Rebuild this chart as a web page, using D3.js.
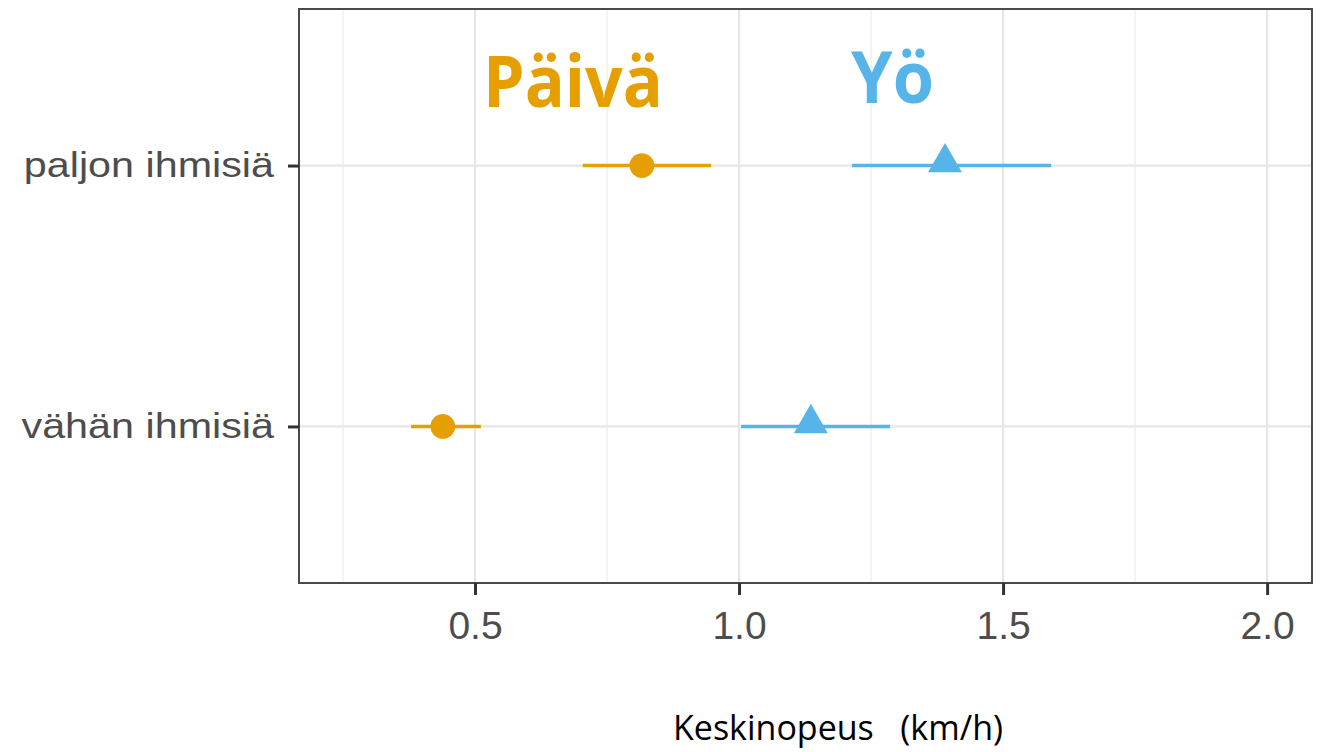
<!DOCTYPE html>
<html>
<head>
<meta charset="utf-8">
<style>
  body { margin: 0; background: #fff; }
  svg { display: block; }
</style>
</head>
<body>
<svg width="1320" height="752"></svg>
<script src="https://d3js.org/d3.v7.min.js"></script>
<script>

// data
var groups = ["vähän ihmisiä", "paljon ihmisiä"];
var seriesNames = ["Päivä", "Yö"];
var paivaMean = [0.439, 0.816];
var paivaLow  = [0.379, 0.704];
var paivaHigh = [0.511, 0.947];
var yoMean = [1.136, 1.390];
var yoLow  = [1.004, 1.214];
var yoHigh = [1.286, 1.591];
var xTicks = [0.5, 1.0, 1.5, 2.0];
var xMinor = [0.25, 0.75, 1.25, 1.75];
var xTitle = "Keskinopeus\u00a0\u00a0\u00a0(km/h)";

var svg = d3.select("svg"),
    panel = {left: 299, top: 9, right: 1312, bottom: 583};

var x = d3.scaleLinear()
    .domain([0.1667, 2.085])
    .range([panel.left, panel.right]);

var y = d3.scalePoint()
    .domain(groups)
    .range([panel.bottom, panel.top])
    .padding(0.6);

var colors = {"Päivä": "#E69F00", "Yö": "#56B4E9"};

var series = [
  {name: "Päivä", mean: paivaMean, low: paivaLow, high: paivaHigh, shape: d3.symbolCircle, size: 480},
  {name: "Yö", mean: yoMean, low: yoLow, high: yoHigh, shape: d3.symbolTriangle, size: 500}
];

// grid
var grid = svg.append("g");
grid.selectAll(".minor").data(xMinor).enter().append("line")
    .attr("x1", x).attr("x2", x)
    .attr("y1", panel.top).attr("y2", panel.bottom)
    .attr("stroke", "#ececec").attr("stroke-width", 1.2);
grid.selectAll(".major").data(xTicks).enter().append("line")
    .attr("x1", x).attr("x2", x)
    .attr("y1", panel.top).attr("y2", panel.bottom)
    .attr("stroke", "#e6e6e6").attr("stroke-width", 2.2);
grid.selectAll(".hmajor").data(groups).enter().append("line")
    .attr("x1", panel.left).attr("x2", panel.right)
    .attr("y1", y).attr("y2", y)
    .attr("stroke", "#e6e6e6").attr("stroke-width", 2.2);

// error bars + points
series.forEach(function(s) {
  var g = svg.append("g");
  var rows = groups.map(function(name, i) {
    return {group: name, mean: s.mean[i], low: s.low[i], high: s.high[i]};
  });
  g.selectAll("line").data(rows).enter().append("line")
      .attr("x1", function(d) { return x(d.low); })
      .attr("x2", function(d) { return x(d.high); })
      .attr("y1", function(d) { return y(d.group); })
      .attr("y2", function(d) { return y(d.group); })
      .attr("stroke", colors[s.name])
      .attr("stroke-width", 3.5);
  g.selectAll("path").data(rows).enter().append("path")
      .attr("d", d3.symbol().type(s.shape).size(s.size))
      .attr("transform", function(d) {
        var dy = s.shape === d3.symbolTriangle ? -3 : 0;
        return "translate(" + x(d.mean) + "," + (y(d.group) + dy) + ")";
      })
      .attr("fill", colors[s.name]);
});

// panel border
svg.append("rect")
    .attr("x", panel.left).attr("y", panel.top)
    .attr("width", panel.right - panel.left)
    .attr("height", panel.bottom - panel.top)
    .attr("fill", "none")
    .attr("stroke", "#4a4a4a")
    .attr("stroke-width", 2);

// axes
var xAxis = svg.append("g")
    .attr("transform", "translate(0," + panel.bottom + ")")
    .call(d3.axisBottom(x).tickValues(xTicks).tickFormat(d3.format(".1f")).tickSizeInner(12).tickSizeOuter(0).tickPadding(16));
var yAxis = svg.append("g")
    .attr("transform", "translate(" + panel.left + ",0)")
    .call(d3.axisLeft(y).tickSizeInner(11).tickSizeOuter(0).tickPadding(14));

[xAxis, yAxis].forEach(function(a) {
  a.select(".domain").remove();
  a.selectAll(".tick line").attr("stroke", "#333").attr("stroke-width", 3);
  a.selectAll(".tick text")
      .attr("fill", "#4d4d4d")
      .style("font-family", "'Liberation Sans', Arial, sans-serif");
});
xAxis.selectAll(".tick text").style("font-size", "39px").attr("dy", "0.71em");
yAxis.selectAll(".tick text").style("font-size", "35px")
    .each(function() {
      var len = this.getComputedTextLength();
      d3.select(this).attr("textLength", len * 1.18).attr("lengthAdjust", "spacingAndGlyphs");
    });

// series labels
var labelPos = {"Päivä": [0.515, 107, 180], "Yö": [1.212, 103, 83]};
svg.selectAll(".serieslabel").data(seriesNames).enter().append("text")
    .attr("x", function(d) { return x(labelPos[d][0]); })
    .attr("y", function(d) { return labelPos[d][1]; })
    .attr("textLength", function(d) { return labelPos[d][2]; })
    .attr("lengthAdjust", "spacingAndGlyphs")
    .attr("fill", function(d) { return colors[d]; })
    .attr("text-anchor", "start")
    .style("font-family", "'Open Sans', 'Noto Sans', sans-serif")
    .style("font-weight", "700")
    .style("font-size", "72px")
    .text(function(d) { return d; });

// axis title
svg.append("text")
    .attr("x", 838)
    .attr("y", 740)
    .attr("text-anchor", "middle")
    .attr("fill", "#000")
    .style("font-family", "'Open Sans', 'Noto Sans', sans-serif")
    .style("font-size", "34px")
    .text(xTitle);

</script>
</body>
</html>
